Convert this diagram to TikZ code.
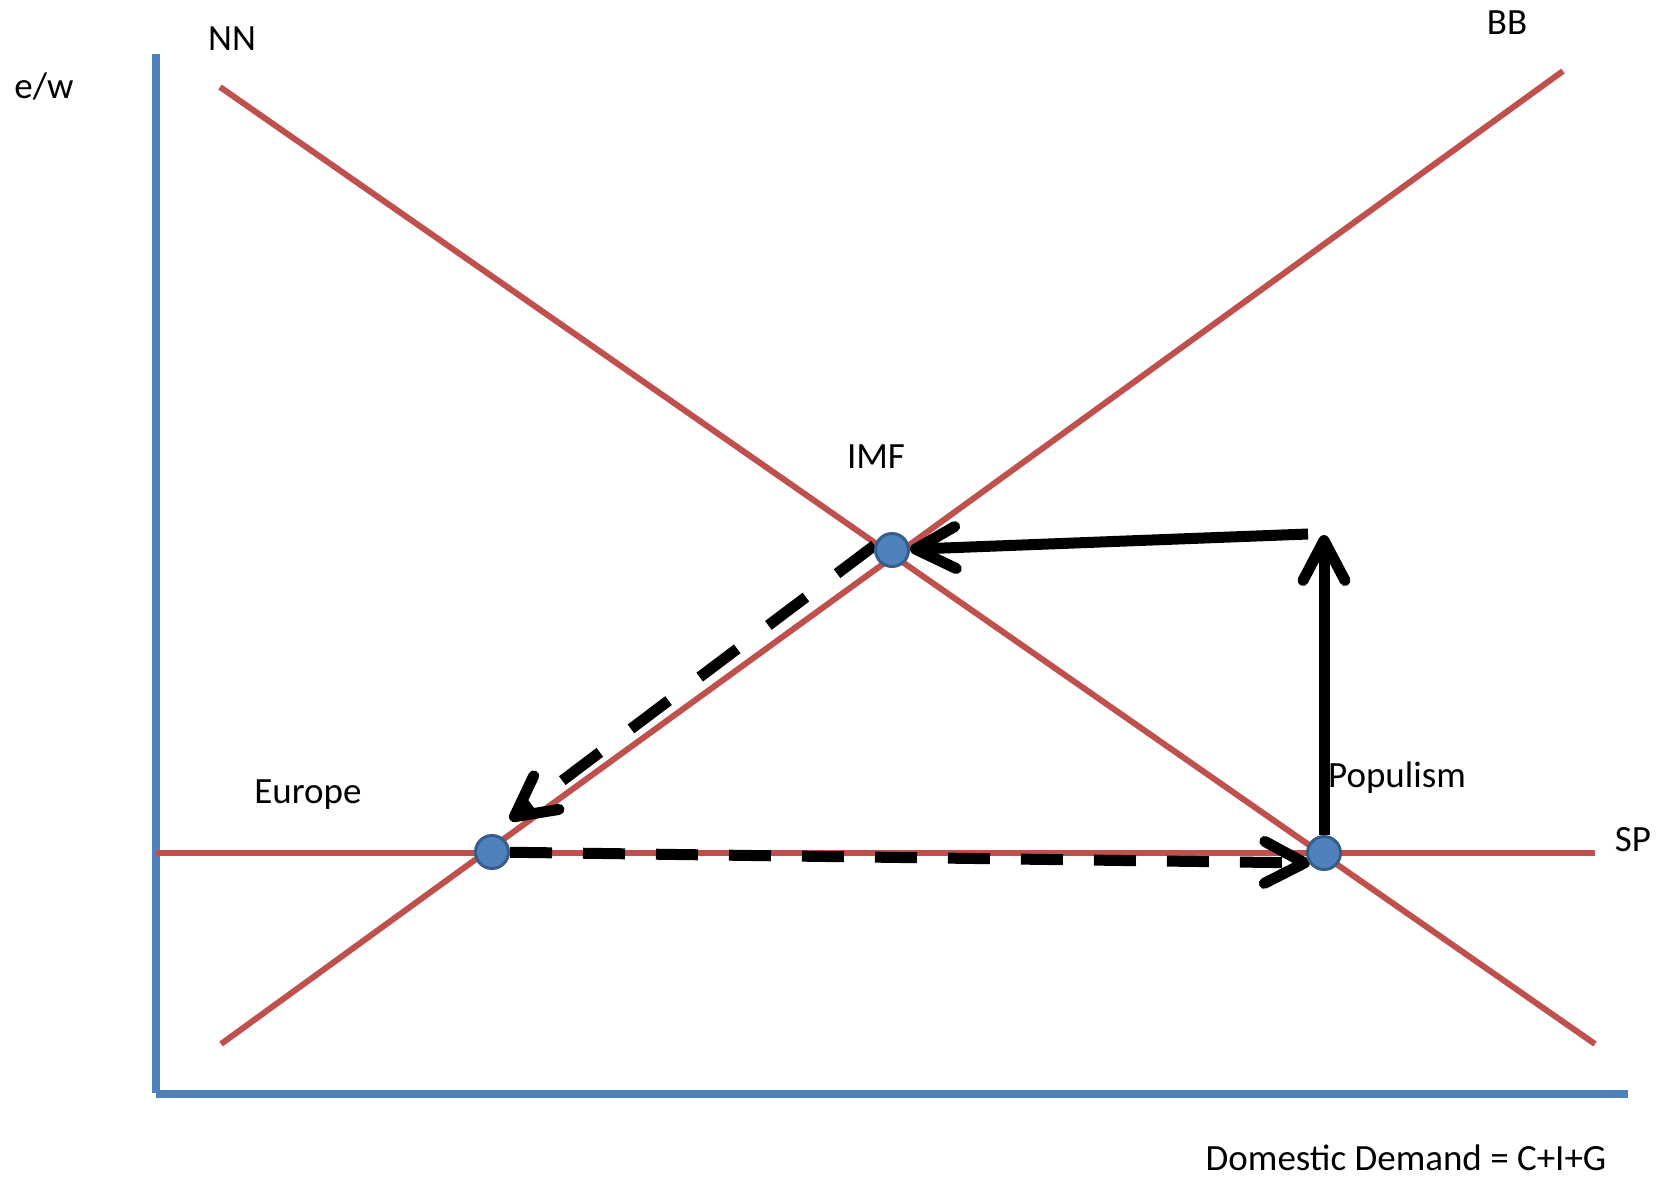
\documentclass[tikz,border=0pt]{standalone}
\usepackage{fontspec}
\setmainfont{Carlito}
\usetikzlibrary{arrows.meta}
\pgfdeclarelayer{paper}
\pgfdeclarelayer{back}
\pgfsetlayers{paper,back,main}
\definecolor{schedred}{HTML}{C0504D}
\definecolor{axisblue}{HTML}{4F81BD}
\definecolor{dotfill}{HTML}{4F81BD}
\definecolor{dotline}{HTML}{385D8A}
\tikzset{
  axisline/.style={draw=axisblue, line width=8pt},
  schedule/.style={draw=schedred, line width=6pt},
  eqdot/.style={circle, fill=dotfill, draw=dotline, line width=3pt,
    minimum size=33pt, inner sep=0pt},
  lbl/.style={font=\fontsize{37}{44}\selectfont, anchor=base, inner sep=0pt},
  barb/.style={-{Straight Barb[length=40pt, width=42pt, round]}},
  % soft grey drop shadow under every policy move
  move/.style={draw=black, line width=11pt, barb, #1,
    preaction={draw=black!16, barb, #1,
      transform canvas={shift={(2pt,-3.5pt)}}}},
  move/.default={},
  diagdash/.style={dash pattern=on 47pt off 39pt},
  flatdash/.style={dash pattern=on 42pt off 31pt},
}
\begin{document}
\begin{tikzpicture}[x=1pt, y=-1pt]
  \useasboundingbox (0,0) rectangle (1667,1176);
  \begin{pgfonlayer}{paper}
    \fill[white] (0,0) rectangle (1667,1176);
  \end{pgfonlayer}

  % equilibrium points
  \node[eqdot] (imf) at (892,550) {};
  \node[eqdot] (eu)  at (492,852) {};
  \node[eqdot] (pop) at (1324,853) {};

  % free ends of the policy moves
  \coordinate (imfin) at (1308,534);
  \coordinate (popup) at (1324,535);
  \coordinate (euin)  at (510,820);
  \coordinate (popin) at (1310,863);

  % axes and schedule end points
  \coordinate (ytop) at (156,54);
  \coordinate (ybot) at (156,1093);
  \coordinate (xl)   at (156,1094);
  \coordinate (xr)   at (1628,1094);
  \coordinate (nn1)  at (220,87);
  \coordinate (nn2)  at (1595,1044);
  \coordinate (bb1)  at (221,1044);
  \coordinate (bb2)  at (1563,71);
  \coordinate (sp1)  at (156,853);
  \coordinate (sp2)  at (1595,853);

  \begin{pgfonlayer}{back}
    \draw[axisline] (ytop) -- (ybot);
    \draw[axisline] (xl) -- (xr);
    \draw[schedule] (nn1) -- (nn2);
    \draw[schedule] (bb1) -- (bb2);
    \draw[schedule] (sp1) -- (sp2);

    \draw[move] (imfin) -- (imf);
    \draw[move] (pop) -- (popup);
    \draw[move=diagdash] (imf.165) -- (euin);
    \draw[move=flatdash] (eu) -- (popin);
  \end{pgfonlayer}

  % labels
  \node[lbl] (lew)  at (44,98)    {e/w};
  \node[lbl] (lnn)  at (232,50)   {NN};
  \node[lbl] (lbb)  at (1507,34)  {BB};
  \node[lbl] (limf) at (876,468)  {IMF};
  \node[lbl] (leu)  at (308,803)  {Europe};
  \node[lbl] (lpop) at (1397,787) {Populism};
  \node[lbl] (lsp)  at (1633,851) {SP};
  \node[lbl] (ldd)  at (1406,1170) {Domestic Demand = C+I+G};
\end{tikzpicture}
\end{document}
